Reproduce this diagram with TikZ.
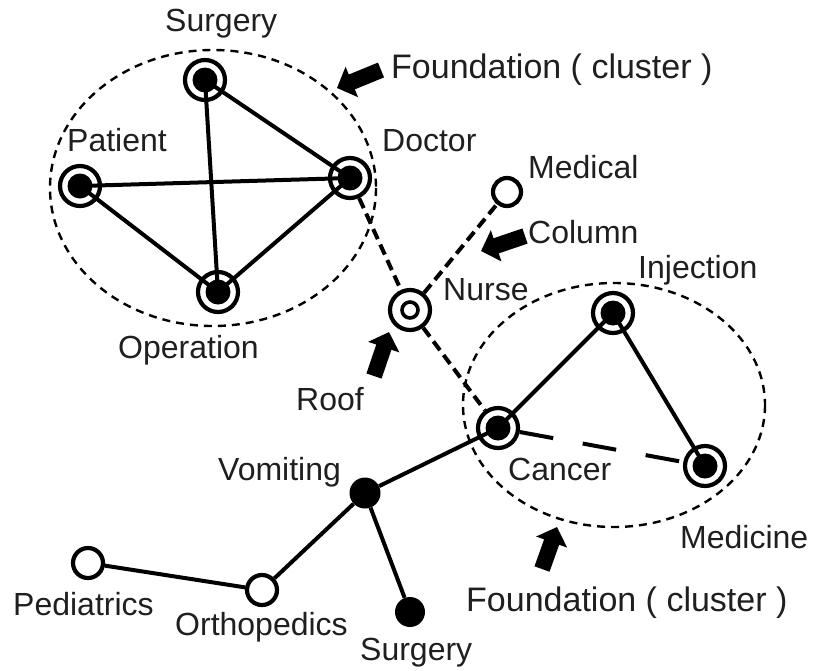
\documentclass[tikz,border=0pt]{standalone}
\usepackage{fontspec}
\setmainfont{Liberation Sans}
\usetikzlibrary{arrows.meta,backgrounds}
\tikzset{
  lbl/.style={anchor=base west,inner sep=0pt,font=\fontsize{32}{38}\selectfont,text=black!88},
  biglbl/.style={lbl,font=\fontsize{34}{40}\selectfont},
  ring/.style={circle,draw,line width=4.2pt,minimum size=40pt,inner sep=0pt,
    path picture={\fill (path picture bounding box.center) circle (12.5pt);}},
  nursering/.style={circle,draw,line width=4.2pt,minimum size=40pt,inner sep=0pt,
    path picture={\draw[line width=3.6pt] (path picture bounding box.center) circle (8pt);}},
  opennode/.style={circle,draw,line width=4.2pt,fill=white,minimum size=28pt,inner sep=0pt},
  dotnode/.style={circle,fill,minimum size=31pt,inner sep=0pt},
  edge/.style={line width=4pt},
  dedge/.style={line width=4pt,dash pattern=on 11pt off 6pt},
  ldedge/.style={line width=4pt,dash pattern=on 34pt off 30pt},
  cluster/.style={line width=2.4pt,dash pattern=on 8pt off 6pt},
  blockarrow/.style={line width=16pt,-{Triangle[width=32pt,length=16pt]}}
}
\begin{document}
\begin{tikzpicture}[x=1pt,y=-1pt]
\useasboundingbox (0,0) rectangle (813,670);
% clusters
\draw[cluster] (213,188) ellipse [x radius=163, y radius=138];
\draw[cluster] (614,405) ellipse [x radius=151, y radius=122];
% nodes
\node[ring] (surg) at (205,80) {};
\node[ring] (pat) at (80,186) {};
\node[ring] (doc) at (350,178) {};
\node[ring] (op) at (218,292) {};
\node[nursering] (nurse) at (410,310) {};
\node[opennode] (med) at (507,192) {};
\node[ring] (cancer) at (498,428) {};
\node[ring] (inj) at (613,313) {};
\node[ring] (medi) at (705,466) {};
\node[dotnode] (vom) at (365,493) {};
\node[opennode,minimum size=30pt] (ped) at (88,563) {};
\node[opennode,minimum size=30pt] (orth) at (262,590) {};
\node[dotnode,minimum size=30pt] (surg2) at (410,612) {};
% edges
\begin{scope}[on background layer]
\draw[edge] (surg.center) -- (doc.center);
\draw[edge] (surg.center) -- (op.center);
\draw[edge] (pat.center) -- (doc.center);
\draw[edge] (pat.center) -- (op.center);
\draw[edge] (doc.center) -- (op.center);
\draw[edge] (cancer.center) -- (inj.center);
\draw[edge] (inj.center) -- (medi.center);
\draw[edge] (cancer.center) -- (vom);
\end{scope}
\draw[edge] (vom) -- (orth);
\draw[edge] (vom) -- (surg2);
\draw[edge] (ped) -- (orth);
\draw[dedge] (doc) -- (nurse);
\draw[dedge] (nurse) -- (cancer);
\draw[dedge] (nurse) -- (med);
\draw[ldedge] (cancer) -- (medi);
% pointer arrows
\coordinate (a1t) at (381,70); \coordinate (a1h) at (337,88);
\coordinate (a2t) at (525,236); \coordinate (a2h) at (481,251);
\coordinate (a3t) at (374,376); \coordinate (a3h) at (389,332);
\coordinate (a4t) at (542,569); \coordinate (a4h) at (557,527);
\draw[blockarrow] (a1t) -- (a1h);
\draw[blockarrow] (a2t) -- (a2h);
\draw[blockarrow] (a3t) -- (a3h);
\draw[blockarrow] (a4t) -- (a4h);
% labels
\node[lbl] (lsurg) at (165,31) {Surgery};
\node[biglbl] (lfound1) at (391,78) {Foundation ( cluster )};
\node[lbl] (lpat) at (67,151) {Patient};
\node[lbl] (ldoc) at (382,151) {Doctor};
\node[lbl] (lmed) at (528,178) {Medical};
\node[lbl] (lcol) at (528,243) {Column};
\node[lbl] (lnurse) at (443,300) {Nurse};
\node[lbl] (linj) at (638,278) {Injection};
\node[lbl] (lop) at (118,358) {Operation};
\node[lbl] (lroof) at (296,410) {Roof};
\node[lbl] (lcancer) at (508,480) {Cancer};
\node[lbl] (lvom) at (218,480) {Vomiting};
\node[lbl] (lmedi) at (680,548) {Medicine};
\node[biglbl] (lfound2) at (466,611) {Foundation ( cluster )};
\node[lbl] (lped) at (13,615) {Pediatrics};
\node[lbl] (lorth) at (175,635) {Orthopedics};
\node[lbl] (lsurg2) at (360,660) {Surgery};
\end{tikzpicture}
\end{document}
